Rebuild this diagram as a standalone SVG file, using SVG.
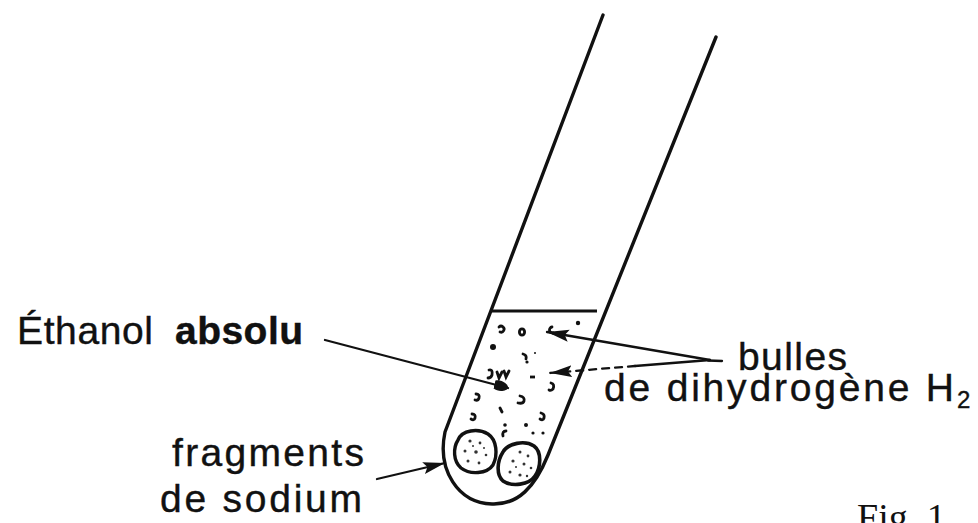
<svg xmlns="http://www.w3.org/2000/svg" width="978" height="523" viewBox="0 0 978 523">
  <style>
    .label { font-family: "Liberation Sans", Arial, sans-serif; font-size: 39px; fill: #111; stroke: #111; stroke-width: 0.4; }
    .bold { font-weight: bold; }
    .sub { font-size: 24px; }
    .fig { font-family: "Liberation Serif", "Times New Roman", serif; font-size: 38px; fill: #111; }
    .wall { fill: none; stroke: #111; stroke-width: 3.4; stroke-linejoin: round; stroke-linecap: round; }
    .lead { fill: none; stroke: #111; stroke-width: 2.3; stroke-linecap: round; }
    .bub { fill: none; stroke: #111; stroke-width: 2.8; stroke-linecap: round; }
    .dot { fill: #111; }
    .grain { fill: #333; }
  </style>
  <defs>
    <marker id="headBig" markerUnits="userSpaceOnUse" markerWidth="26" markerHeight="16" refX="22" refY="7" orient="auto">
      <path d="M0,1 L22,7 L0,13 L4,7 Z" fill="#111"/>
    </marker>
    <marker id="headBlob" markerUnits="userSpaceOnUse" markerWidth="18" markerHeight="16" refX="14" refY="7" orient="auto">
      <path d="M0,3 C6,0 14,4 14,7 C14,10 6,14 0,11 Z" fill="#111"/>
    </marker>
  </defs>

  <rect width="978" height="523" fill="#ffffff"/>

  <!-- test tube -->
  <g id="tube">
    <path class="wall" d="M603,15 L445,432 C437,470 458,503 492,504 C518,505 535,487 548,455 L716,37"/>
    <!-- ethanol surface -->
    <line x1="492" y1="311" x2="597" y2="311" stroke="#111" stroke-width="2.8"/>
  </g>

  <!-- gas bubbles in the ethanol -->
  <g id="bubbles">
    <path class="bub" d="M499,327 a3,3 0 1 1 1,5"/>
    <ellipse cx="522" cy="332" rx="2.6" ry="3.2" class="bub"/>
    <path class="bub" d="M552,327 a3,3 0 1 0 1,6"/>
    <circle class="dot" cx="578" cy="323" r="2.2"/>
    <circle class="dot" cx="493" cy="347" r="3"/>
    <path class="bub" d="M523,354 q4,1 3,5"/>
    <circle class="dot" cx="527" cy="362" r="1.6"/>
    <circle class="dot" cx="535" cy="353" r="1"/>
    <path class="bub" d="M489,370 q4,-1 3,5 q-1,3 -4,3"/>
    <path class="bub" d="M497,372 l2,6 l3,-6 M504,371 l2,6 l3,-6"/>
    <line x1="530" y1="377" x2="535" y2="377" stroke="#111" stroke-width="2.8"/>
    <path class="bub" d="M551,383 q4,1 2,6 q-2,2 -4,1"/>
    <path class="bub" d="M476,394 q4,0 3,4 q-1,3 -4,2"/>
    <path class="bub" d="M520,396 q5,1 4,5 q-1,3 -6,2"/>
    <path class="bub" d="M500,408 l2,4"/>
    <path class="bub" d="M541,413 q4,1 3,5 q-1,3 -4,1"/>
    <path class="bub" d="M472,414 q4,0 3,4 q-1,3 -4,1"/>
    <circle class="dot" cx="505" cy="425" r="1.8"/>
    <circle class="dot" cx="526" cy="425" r="2"/>
    <path class="bub" d="M503,436 q-1,-5 3,-5"/>
    <circle class="dot" cx="533" cy="433" r="1.6"/>
    <circle class="dot" cx="543" cy="433" r="1.6"/>
  </g>

  <!-- sodium fragments -->
  <g id="sodium">
    <path d="M458,440 C462,430 478,428 488,434 C497,440 498,455 493,465 C487,474 470,475 461,468 C453,461 453,448 458,440 Z" fill="none" stroke="#111" stroke-width="3.4"/>
    <path d="M503,452 C508,443 525,440 534,446 C542,452 541,467 535,476 C529,485 512,487 503,481 C496,475 497,461 503,452 Z" fill="none" stroke="#111" stroke-width="3.6"/>
    <g class="grain">
      <circle cx="470" cy="441" r="1.6"/><circle cx="480" cy="443" r="1.4"/><circle cx="465" cy="451" r="1.5"/>
      <circle cx="476" cy="452" r="1.8"/><circle cx="486" cy="455" r="1.3"/><circle cx="468" cy="461" r="1.5"/>
      <circle cx="479" cy="463" r="1.4"/><circle cx="473" cy="446" r="1"/><circle cx="484" cy="448" r="1"/>
      <circle cx="520" cy="452" r="1.5"/><circle cx="528" cy="456" r="1.4"/><circle cx="513" cy="461" r="1.6"/>
      <circle cx="524" cy="464" r="1.5"/><circle cx="531" cy="468" r="1.3"/><circle cx="510" cy="472" r="1.5"/>
      <circle cx="520" cy="475" r="1.6"/><circle cx="516" cy="467" r="1"/><circle cx="527" cy="476" r="1.2"/>
    </g>
  </g>

  <!-- pointer lines -->
  <g id="connectors">
    <line class="lead" x1="325" y1="340" x2="508" y2="388" marker-end="url(#headBlob)"/>
    <line class="lead" x1="710" y1="360" x2="547" y2="332" marker-end="url(#headBig)"/>
    <line class="lead" x1="710" y1="360" x2="635" y2="366"/>
    <line class="lead" x1="635" y1="366" x2="550" y2="373" stroke-dasharray="7,6" marker-end="url(#headBig)"/>
    <line class="lead" x1="708" y1="360.5" x2="722" y2="361" stroke-width="3"/>
    <line class="lead" x1="377" y1="479" x2="445" y2="463" marker-end="url(#headBig)"/>
  </g>

  <!-- labels -->
  <g id="label-ethanol">
    <text class="label" x="17" y="344" textLength="136" lengthAdjust="spacing">Éthanol</text>
    <text class="label bold" x="175" y="344" textLength="128" lengthAdjust="spacing">absolu</text>
  </g>
  <g id="label-bulles">
    <text class="label" x="738" y="370" textLength="109" lengthAdjust="spacing">bulles</text>
    <text class="label" x="604" y="401" textLength="350" lengthAdjust="spacing">de dihydrogène H</text>
    <text class="label sub" x="957" y="408">2</text>
  </g>
  <g id="label-sodium">
    <text class="label" x="172" y="466" textLength="192" lengthAdjust="spacing">fragments</text>
    <text class="label" x="160" y="512" textLength="202" lengthAdjust="spacing">de sodium</text>
  </g>
  <g id="caption">
    <text class="fig" x="857" y="530">Fig. 1</text>
  </g>
</svg>
